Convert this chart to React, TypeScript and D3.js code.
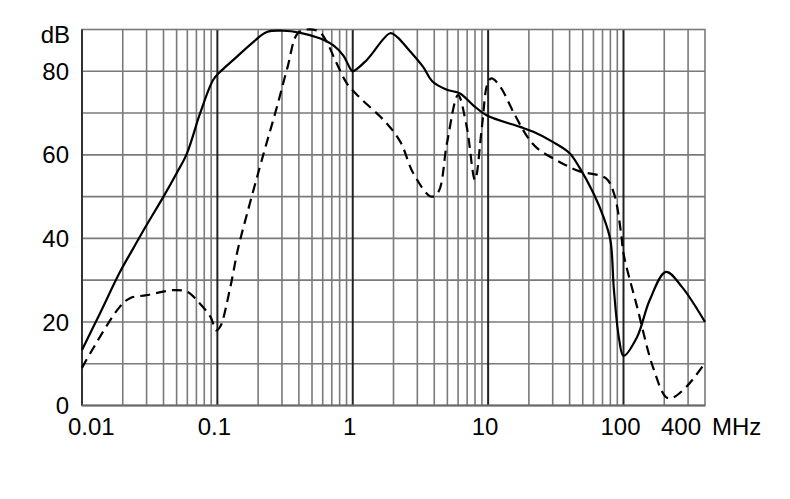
import * as d3 from "d3";

// frequency in MHz, level in dB
const solidFreq = [
  0.01, 0.0136, 0.0191, 0.0238, 0.03, 0.04, 0.05, 0.0595, 0.0745, 0.093, 0.105, 0.13,
  0.184, 0.232, 0.305, 0.41, 0.57, 0.72, 0.85, 0.96, 1.0, 1.27, 1.89, 2.13, 2.6, 3.3,
  3.9, 4.96, 6.2, 7.8, 9.8, 17.2, 21.6, 30, 40, 47, 60, 71, 80, 85, 93, 100, 126, 156,
  206, 270, 400,
];
const solidDb = [
  13.3, 22.1, 32, 37.5, 43.2, 50, 55.6, 60.3, 69.9, 77.9, 79.9, 82.6, 87, 89.4, 89.7,
  89.2, 87.9, 86.2, 83.8, 80.6, 80, 82.7, 89.1, 88.2, 85.1, 81.1, 77.5, 75.6, 74.7,
  71.8, 69.4, 66.7, 65.5, 63.1, 60.4, 57.1, 50.8, 45.2, 39.6, 27.6, 15.7, 11.9, 16.4,
  25.2, 32, 28.4, 20,
];

const dashFreq = [
  0.01, 0.0115, 0.019, 0.0226, 0.03, 0.047, 0.06, 0.0705, 0.089, 0.098, 0.105, 0.124,
  0.142, 0.166, 0.22, 0.275, 0.33, 0.39, 0.46, 0.57, 0.65, 0.76, 0.91, 1.12, 1.74,
  2.25, 2.8, 3.8, 4.3, 4.96, 6.0, 6.95, 8.0, 9.0, 9.9, 10.6, 12.3, 15.5, 19.5, 23, 32,
  47, 74, 85, 96, 100, 126, 165, 206, 228, 290, 390,
];
const dashDb = [
  9, 12.5, 23.6, 25.7, 26.4, 27.6, 27.2, 25.2, 21.2, 18, 18.9, 28, 37.5, 46, 60.4,
  71.4, 81, 89, 90, 89.4, 86.7, 81.9, 77, 73.8, 67.9, 63.1, 55.6, 50, 51.2, 62.7, 74.3,
  66.7, 54, 66.7, 77.1, 78.3, 76.3, 70, 64.3, 61.6, 58.7, 56.1, 54.4, 50.8, 41.2, 36.4,
  23.6, 9.2, 2, 1.8, 4.4, 9.7,
];

const yTicks = [0, 20, 40, 60, 80];
const xTickValues = [0.01, 0.1, 1, 10, 100, 400];
const xTickLabels = ["0.01", "0.1", "1", "10", "100", "400"];
const yUnit = "dB";
const xUnit = "MHz";

const width = 790;
const height = 499;
const left = 82;
const right = 705;
const top = 29.5;
const bottom = 405.5;
const font = "'Liberation Sans', Arial, sans-serif";

const App = () => {
  const x = d3.scaleLog().domain([0.01, 400]).range([left, right]);
  const y = d3.scaleLinear().domain([0, 90]).range([bottom, top]);

  const line = d3
    .line<[number, number]>()
    .x((d) => x(d[0]))
    .y((d) => y(d[1]))
    .curve(d3.curveCatmullRom.alpha(0.5));

  const solid = solidFreq.map((f, i) => [f, solidDb[i]] as [number, number]);
  const dashed = dashFreq.map((f, i) => [f, dashDb[i]] as [number, number]);

  const vTicks = x.ticks().filter((t) => t > 0.01 && t < 400);
  const isDecade = (t: number) => Math.abs(Math.log10(t) - Math.round(Math.log10(t))) < 1e-6;
  const hTicks = d3.range(10, 90, 10);

  return (
    <svg
      width={width}
      height={height}
      style={{ position: "absolute", left: 0, top: 0, background: "#fff" }}
    >
      <g>
        {hTicks.map((t) => (
          <line key={"h" + t} x1={left} x2={right} y1={y(t)} y2={y(t)} stroke="#7a7a7a" strokeWidth={1.6} />
        ))}
        {vTicks.map((t) => (
          <line
            key={"v" + t}
            x1={x(t)}
            x2={x(t)}
            y1={top}
            y2={bottom}
            stroke={isDecade(t) ? "#222" : "#7a7a7a"}
            strokeWidth={isDecade(t) ? 2 : 1.6}
          />
        ))}
        <rect x={left} y={top} width={right - left} height={bottom - top} fill="none" stroke="#7a7a7a" strokeWidth={1.6} />
        <line x1={left} x2={left} y1={top} y2={bottom} stroke="#333" strokeWidth={2} />
        <line x1={left} x2={right} y1={bottom} y2={bottom} stroke="#6a6a6a" strokeWidth={1.8} />
      </g>

      <path d={line(solid) ?? ""} fill="none" stroke="#000" strokeWidth={2.2} />
      <path d={line(dashed) ?? ""} fill="none" stroke="#000" strokeWidth={2.2} strokeDasharray="10,6" />

      <g fontFamily={font} fontSize={24} fill="#000">
        {yTicks.map((t) => (
          <text key={"yl" + t} x={69} y={y(t)} dy="0.36em" textAnchor="end">
            {t}
          </text>
        ))}
        <text x={70} y={34} dy="0.36em" textAnchor="end">
          {yUnit}
        </text>
        {xTickValues.map((v, i) => {
          const first = i === 0;
          const last = i === xTickValues.length - 1;
          return (
            <text
              key={"xl" + v}
              x={first ? x(v) - 14 : last ? x(v) - 4 : x(v) - 3}
              y={435}
              textAnchor={first ? "start" : last ? "end" : "middle"}
            >
              {xTickLabels[i]}
            </text>
          );
        })}
        <text x={right + 7} y={435} textAnchor="start">
          {xUnit}
        </text>
      </g>
    </svg>
  );
};

export default App;
